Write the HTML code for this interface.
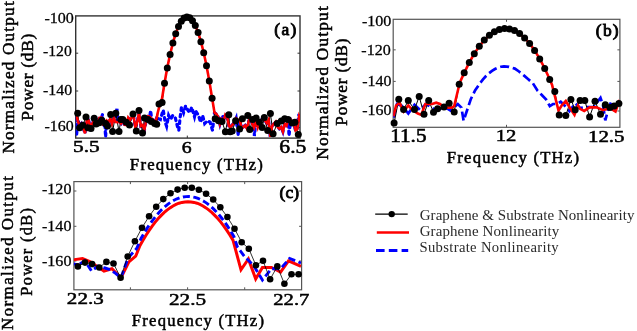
<!DOCTYPE html>
<html><head><meta charset="utf-8"><style>
html,body{margin:0;padding:0;background:#fff;}
svg{display:block;font-family:"Liberation Serif", serif;filter:blur(0.3px);}
</style></head><body>
<svg width="637" height="331" viewBox="0 0 637 331">
<rect width="637" height="331" fill="#fff"/>
<clipPath id="ca"><rect x="75.7" y="10.9" width="224.3" height="127.19999999999999"/></clipPath>
<line x1="187.3" y1="138.1" x2="187.3" y2="135.6" stroke="#333" stroke-width="1"/>
<line x1="75.7" y1="53.2" x2="78.2" y2="53.2" stroke="#333" stroke-width="1"/>
<line x1="300.0" y1="53.2" x2="297.5" y2="53.2" stroke="#333" stroke-width="1"/>
<line x1="75.7" y1="91" x2="78.2" y2="91" stroke="#333" stroke-width="1"/>
<line x1="300.0" y1="91" x2="297.5" y2="91" stroke="#333" stroke-width="1"/>
<line x1="75.7" y1="127.5" x2="78.2" y2="127.5" stroke="#333" stroke-width="1"/>
<line x1="300.0" y1="127.5" x2="297.5" y2="127.5" stroke="#333" stroke-width="1"/>
<rect x="75.7" y="15.9" width="224.3" height="122.19999999999999" fill="none" stroke="#333" stroke-width="1.4"/>
<g clip-path="url(#ca)">
<polyline points="75.8,127.2 76.0,112.7 76.5,136.0 77.8,121.0 78.5,122.0 79.6,125.8 81.4,123.7 83.2,127.8 85.0,133.4 86.8,120.7 88.6,120.4 90.4,127.5 92.2,123.8 94.0,120.4 95.8,120.8 97.6,121.5 99.4,117.9 101.2,117.5 101.5,118.0 102.5,114.5 103.0,124.1 104.5,126.0 104.8,123.0 105.6,137.0 106.6,120.5 107.0,124.0 108.4,122.1 110.2,118.9 112.0,123.9 113.8,118.1 115.6,122.0 116.0,114.0 117.0,108.8 117.4,122.2 118.0,117.0 119.2,121.7 121.0,123.5 122.8,120.1 124.6,124.9 126.4,125.1 128.2,117.7 130.0,119.9 131.8,117.3 133.6,116.4 135.4,127.7 137.2,122.2 139.0,112.8 140.8,126.1 142.6,124.9 144.4,129.7 146.2,120.8 148.0,116.3 149.5,116.0 149.8,116.6 150.6,110.6 151.5,118.0 151.6,118.7 153.4,120.5 155.2,122.2 157.0,116.6 157.0,118.0 160.4,119.5 163.2,110.0 165.2,122.2 166.6,126.3 168.6,115.4 170.6,119.5 172.7,115.4 175.4,118.1 177.4,126.3 178.8,130.4 180.2,116.8 181.5,107.2 183.6,112.7 185.6,105.9 187.7,110.0 189.7,112.7 191.7,107.2 194.5,116.8 195.8,111.3 198.5,115.4 200.6,122.2 202.6,115.4 204.7,123.6 207.4,120.8 210.1,122.2 212.1,129.0 212.5,130.3 214.5,112.6 216.3,114.0 218.1,116.8 219.9,124.1 221.7,118.0 221.7,119.0 222.7,115.4 223.5,120.8 223.7,120.0 225.3,114.8 227.1,116.6 228.9,126.0 230.7,126.9 232.5,124.6 234.3,122.5 236.1,118.4 237.0,126.0 237.9,120.0 238.0,136.0 239.0,126.0 239.7,119.6 241.5,128.6 243.3,127.0 245.1,125.5 246.9,128.5 248.7,121.1 250.5,118.3 252.3,124.0 253.4,126.0 254.1,127.6 254.4,136.0 255.4,126.0 255.9,120.7 257.7,127.2 259.5,121.1 261.3,119.7 263.1,118.5 264.9,120.4 266.7,123.1 268.5,119.8 270.3,136.8 272.1,126.0 273.9,123.6 275.7,121.7 277.5,126.7 279.3,128.7 281.1,127.0 282.9,131.6 284.7,123.9 286.5,125.7 288.0,126.0 288.3,118.8 289.0,136.0 290.0,126.0 290.1,118.4 291.9,122.2 293.7,122.9 295.5,130.4 297.3,129.2 298.0,120.0 299.0,114.0 299.1,116.6 300.0,120.0 300.9,121.3" fill="none" stroke="#0000ff" stroke-width="3.2" stroke-linecap="round" stroke-dasharray="2.6 4"/>
<polyline points="77.7,113.2 79.6,127.8 82.8,125.3 86.0,117.0 87.9,127.8 91.0,128.5 94.2,118.3 96.1,124.0 99.3,122.7 101.8,120.2 105.6,123.4 107.5,125.9 110.7,114.5 112.6,131.6 115.8,113.2 119.0,131.6 120.9,119.6 122.8,119.5 126.2,122.2 129.5,124.9 133.0,114.0 136.3,131.0 139.0,110.6 142.5,133.0 144.5,118.1 148.0,119.5 151.3,121.5 154.7,123.5 156.7,124.2 159.0,103.9 162.1,102.4 164.5,83.3 167.3,67.9 170.1,54.5 172.9,43.1 175.7,33.8 178.5,26.5 181.3,21.3 184.1,18.1 186.9,16.9 189.7,17.8 192.5,20.7 195.3,25.6 198.1,32.6 200.9,41.7 203.7,52.7 206.5,65.8 209.3,81.0 212.1,98.2 215.2,118.8 218.6,120.8 222.0,121.5 225.4,131.7 228.8,114.7 230.1,131.7 232.2,131.0 235.6,120.8 239.6,129.0 242.4,118.8 247.8,115.4 249.8,129.6 252.6,119.5 256.1,118.1 259.5,122.2 262.2,127.6 264.3,117.4 267.7,130.4 270.4,113.4 273.1,133.8 277.2,123.6 281.3,120.9 284.7,118.8 288.1,119.5 292.2,122.9 294.9,122.2 298.3,134.5" fill="none" stroke="#000" stroke-width="1"/>
<polyline points="76.0,112.7 77.8,121.0 79.6,125.8 81.4,123.7 83.2,127.8 85.0,133.4 86.8,120.7 88.6,120.4 90.4,127.5 92.2,123.8 94.0,120.4 95.8,120.8 97.6,121.5 99.4,117.9 101.2,117.5 103.0,124.1 104.8,123.0 106.6,120.5 108.4,122.1 110.2,118.9 112.0,123.9 113.8,118.1 115.6,122.0 117.4,122.2 119.2,121.7 121.0,123.5 122.8,120.1 124.6,124.9 126.4,125.1 128.2,117.7 130.0,119.9 131.8,117.3 133.6,116.4 135.4,127.7 137.2,122.2 139.0,112.8 140.8,126.1 142.6,124.9 144.4,129.7 146.2,120.8 148.0,116.3 149.8,116.6 151.6,118.7 153.4,120.5 155.2,122.2 157.0,116.6 157.4,114.0 160.0,104.0 162.0,98.8 164.0,86.3 166.0,74.8 168.0,64.3 170.0,54.9 172.0,46.5 174.0,39.2 176.0,32.9 178.0,27.7 180.0,23.5 182.0,20.3 184.0,18.1 186.0,17.1 188.0,17.0 190.0,18.0 192.0,20.0 194.0,23.1 196.0,27.2 198.0,32.3 200.0,38.5 202.0,45.8 204.0,54.0 206.0,63.3 208.0,73.7 210.0,85.1 212.0,97.5 214.5,112.6 216.3,114.0 218.1,116.8 219.9,124.1 221.7,119.0 223.5,120.8 225.3,114.8 227.1,116.6 228.9,126.0 230.7,126.9 232.5,124.6 234.3,122.5 236.1,118.4 237.9,120.0 239.7,119.6 241.5,128.6 243.3,127.0 245.1,125.5 246.9,128.5 248.7,121.1 250.5,118.3 252.3,124.0 254.1,127.6 255.9,120.7 257.7,127.2 259.5,121.1 261.3,119.7 263.1,118.5 264.9,120.4 266.7,123.1 268.5,119.8 270.3,136.8 272.1,126.0 273.9,123.6 275.7,121.7 277.5,126.7 279.3,128.7 281.1,127.0 282.9,131.6 284.7,123.9 286.5,125.7 288.3,118.8 290.1,118.4 291.9,122.2 293.7,122.9 295.5,130.4 297.3,129.2 299.1,116.6 300.9,121.3" fill="none" stroke="#ff0000" stroke-width="2.6"/>
</g>
<g fill="#000"><circle cx="77.7" cy="113.2" r="3.5"/><circle cx="79.6" cy="127.8" r="3.5"/><circle cx="82.8" cy="125.3" r="3.5"/><circle cx="86.0" cy="117.0" r="3.5"/><circle cx="87.9" cy="127.8" r="3.5"/><circle cx="91.0" cy="128.5" r="3.5"/><circle cx="94.2" cy="118.3" r="3.5"/><circle cx="96.1" cy="124.0" r="3.5"/><circle cx="99.3" cy="122.7" r="3.5"/><circle cx="101.8" cy="120.2" r="3.5"/><circle cx="105.6" cy="123.4" r="3.5"/><circle cx="107.5" cy="125.9" r="3.5"/><circle cx="110.7" cy="114.5" r="3.5"/><circle cx="112.6" cy="131.6" r="3.5"/><circle cx="115.8" cy="113.2" r="3.5"/><circle cx="119.0" cy="131.6" r="3.5"/><circle cx="120.9" cy="119.6" r="3.5"/><circle cx="122.8" cy="119.5" r="3.5"/><circle cx="126.2" cy="122.2" r="3.5"/><circle cx="129.5" cy="124.9" r="3.5"/><circle cx="133.0" cy="114.0" r="3.5"/><circle cx="136.3" cy="131.0" r="3.5"/><circle cx="139.0" cy="110.6" r="3.5"/><circle cx="142.5" cy="133.0" r="3.5"/><circle cx="144.5" cy="118.1" r="3.5"/><circle cx="148.0" cy="119.5" r="3.5"/><circle cx="151.3" cy="121.5" r="3.5"/><circle cx="154.7" cy="123.5" r="3.5"/><circle cx="156.7" cy="124.2" r="3.5"/><circle cx="159.0" cy="103.9" r="3.5"/><circle cx="162.1" cy="102.4" r="3.5"/><circle cx="164.5" cy="83.3" r="3.5"/><circle cx="167.3" cy="67.9" r="3.5"/><circle cx="170.1" cy="54.5" r="3.5"/><circle cx="172.9" cy="43.1" r="3.5"/><circle cx="175.7" cy="33.8" r="3.5"/><circle cx="178.5" cy="26.5" r="3.5"/><circle cx="181.3" cy="21.3" r="3.5"/><circle cx="184.1" cy="18.1" r="3.5"/><circle cx="186.9" cy="16.9" r="3.5"/><circle cx="189.7" cy="17.8" r="3.5"/><circle cx="192.5" cy="20.7" r="3.5"/><circle cx="195.3" cy="25.6" r="3.5"/><circle cx="198.1" cy="32.6" r="3.5"/><circle cx="200.9" cy="41.7" r="3.5"/><circle cx="203.7" cy="52.7" r="3.5"/><circle cx="206.5" cy="65.8" r="3.5"/><circle cx="209.3" cy="81.0" r="3.5"/><circle cx="212.1" cy="98.2" r="3.5"/><circle cx="215.2" cy="118.8" r="3.5"/><circle cx="218.6" cy="120.8" r="3.5"/><circle cx="222.0" cy="121.5" r="3.5"/><circle cx="225.4" cy="131.7" r="3.5"/><circle cx="228.8" cy="114.7" r="3.5"/><circle cx="230.1" cy="131.7" r="3.5"/><circle cx="232.2" cy="131.0" r="3.5"/><circle cx="235.6" cy="120.8" r="3.5"/><circle cx="239.6" cy="129.0" r="3.5"/><circle cx="242.4" cy="118.8" r="3.5"/><circle cx="247.8" cy="115.4" r="3.5"/><circle cx="249.8" cy="129.6" r="3.5"/><circle cx="252.6" cy="119.5" r="3.5"/><circle cx="256.1" cy="118.1" r="3.5"/><circle cx="259.5" cy="122.2" r="3.5"/><circle cx="262.2" cy="127.6" r="3.5"/><circle cx="264.3" cy="117.4" r="3.5"/><circle cx="267.7" cy="130.4" r="3.5"/><circle cx="270.4" cy="113.4" r="3.5"/><circle cx="273.1" cy="133.8" r="3.5"/><circle cx="277.2" cy="123.6" r="3.5"/><circle cx="281.3" cy="120.9" r="3.5"/><circle cx="284.7" cy="118.8" r="3.5"/><circle cx="288.1" cy="119.5" r="3.5"/><circle cx="292.2" cy="122.9" r="3.5"/><circle cx="294.9" cy="122.2" r="3.5"/><circle cx="298.3" cy="134.5" r="3.5"/></g>
<clipPath id="cb"><rect x="393.2" y="14.3" width="226.7" height="113.0"/></clipPath>
<line x1="506.5" y1="127.3" x2="506.5" y2="124.8" stroke="#555" stroke-width="1"/>
<line x1="506.5" y1="19.3" x2="506.5" y2="21.8" stroke="#555" stroke-width="1"/>
<line x1="393.2" y1="49.85" x2="395.7" y2="49.85" stroke="#555" stroke-width="1"/>
<line x1="619.9" y1="49.85" x2="617.4" y2="49.85" stroke="#555" stroke-width="1"/>
<line x1="393.2" y1="81.4" x2="395.7" y2="81.4" stroke="#555" stroke-width="1"/>
<line x1="619.9" y1="81.4" x2="617.4" y2="81.4" stroke="#555" stroke-width="1"/>
<line x1="393.2" y1="111" x2="395.7" y2="111" stroke="#555" stroke-width="1"/>
<line x1="619.9" y1="111" x2="617.4" y2="111" stroke="#555" stroke-width="1"/>
<rect x="393.2" y="19.3" width="226.7" height="108.0" fill="none" stroke="#555" stroke-width="1.2"/>
<g clip-path="url(#cb)">
<polyline points="393.4,117.6 397.0,104.0 402.0,106.0 408.3,113.5 414.5,104.7 420.0,110.0 426.0,104.0 433.5,108.8 440.0,109.0 445.0,107.0 450.5,110.5 457.8,104.0 461.4,107.6 463.6,120.7 466.5,112.0 470.9,98.9 475.2,90.2 480.0,83.2 483.0,79.4 486.0,76.0 489.0,73.2 492.0,70.9 495.0,69.0 498.0,67.6 501.0,66.7 504.0,66.3 509.0,66.8 514.8,68.6 519.0,71.5 523.8,75.4 528.0,79.0 532.9,83.3 537.4,90.5 541.8,95.0 546.2,99.6 549.8,106.1 553.0,104.0 557.0,104.0 560.7,101.8 565.0,106.0 569.4,111.2 575.2,103.2 580.0,108.0 586.0,107.0 593.7,106.8 600.5,97.9 603.0,105.0 605.3,120.4 608.0,110.0 611.4,101.3 615.0,108.0 620.0,102.0" fill="none" stroke="#0000ff" stroke-width="2.7" stroke-dasharray="9 3.8"/>
<polyline points="394.1,123.0 398.8,99.3 403.6,109.5 408.3,100.6 414.5,109.5 419.2,96.5 424.0,114.2 428.7,100.6 433.5,112.2 437.6,108.8 444.0,106.9 449.1,103.2 454.2,112.0 459.2,84.2 464.2,72.8 469.3,62.6 474.3,53.8 479.3,46.3 484.3,40.1 489.4,35.3 494.4,31.7 499.4,29.5 504.5,28.5 509.5,28.9 514.5,30.6 519.6,33.6 524.6,38.0 529.6,43.6 534.6,50.6 539.7,58.9 544.7,68.5 549.7,79.4 554.8,91.6 559.2,114.9 565.8,115.6 570.9,99.6 575.2,109.8 580.1,100.6 584.8,100.6 589.6,117.0 595.0,101.3 600.5,114.3 605.3,104.7 610.0,107.4 614.1,106.1 618.9,103.4" fill="none" stroke="#000" stroke-width="1"/>
<polyline points="393.4,116.3 396.1,105.4 399.5,102.7 403.6,111.5 408.3,105.4 412.4,110.1 417.9,113.5 421.3,114.9 425.3,104.0 432.1,104.0 436.2,102.7 440.0,104.0 444.7,107.6 452.0,107.6 454.2,106.0 458.0,90.0 460.0,82.3 464.0,73.3 468.0,65.1 472.0,57.7 476.0,51.1 480.0,45.4 484.0,40.5 488.0,36.5 492.0,33.2 496.0,30.8 500.0,29.3 504.0,28.6 508.0,28.7 512.0,29.6 516.0,31.4 520.0,34.0 524.0,37.4 528.0,41.7 532.0,46.8 536.0,52.7 540.0,59.4 544.0,67.0 548.0,75.5 552.0,84.7 558.5,110.5 562.0,105.0 565.8,101.0 570.0,108.0 574.5,114.9 578.0,105.4 580.0,108.8 584.2,110.9 589.6,107.4 596.4,107.4 603.2,110.2 610.0,108.1 615.5,111.5 619.5,100.0" fill="none" stroke="#ff0000" stroke-width="2.6"/>
</g>
<g fill="#000"><circle cx="394.1" cy="123.0" r="3.5"/><circle cx="398.8" cy="99.3" r="3.5"/><circle cx="403.6" cy="109.5" r="3.5"/><circle cx="408.3" cy="100.6" r="3.5"/><circle cx="414.5" cy="109.5" r="3.5"/><circle cx="419.2" cy="96.5" r="3.5"/><circle cx="424.0" cy="114.2" r="3.5"/><circle cx="428.7" cy="100.6" r="3.5"/><circle cx="433.5" cy="112.2" r="3.5"/><circle cx="437.6" cy="108.8" r="3.5"/><circle cx="444.0" cy="106.9" r="3.5"/><circle cx="449.1" cy="103.2" r="3.5"/><circle cx="454.2" cy="112.0" r="3.5"/><circle cx="459.2" cy="84.2" r="3.5"/><circle cx="464.2" cy="72.8" r="3.5"/><circle cx="469.3" cy="62.6" r="3.5"/><circle cx="474.3" cy="53.8" r="3.5"/><circle cx="479.3" cy="46.3" r="3.5"/><circle cx="484.3" cy="40.1" r="3.5"/><circle cx="489.4" cy="35.3" r="3.5"/><circle cx="494.4" cy="31.7" r="3.5"/><circle cx="499.4" cy="29.5" r="3.5"/><circle cx="504.5" cy="28.5" r="3.5"/><circle cx="509.5" cy="28.9" r="3.5"/><circle cx="514.5" cy="30.6" r="3.5"/><circle cx="519.6" cy="33.6" r="3.5"/><circle cx="524.6" cy="38.0" r="3.5"/><circle cx="529.6" cy="43.6" r="3.5"/><circle cx="534.6" cy="50.6" r="3.5"/><circle cx="539.7" cy="58.9" r="3.5"/><circle cx="544.7" cy="68.5" r="3.5"/><circle cx="549.7" cy="79.4" r="3.5"/><circle cx="554.8" cy="91.6" r="3.5"/><circle cx="559.2" cy="114.9" r="3.5"/><circle cx="565.8" cy="115.6" r="3.5"/><circle cx="570.9" cy="99.6" r="3.5"/><circle cx="575.2" cy="109.8" r="3.5"/><circle cx="580.1" cy="100.6" r="3.5"/><circle cx="584.8" cy="100.6" r="3.5"/><circle cx="589.6" cy="117.0" r="3.5"/><circle cx="595.0" cy="101.3" r="3.5"/><circle cx="600.5" cy="114.3" r="3.5"/><circle cx="605.3" cy="104.7" r="3.5"/><circle cx="610.0" cy="107.4" r="3.5"/><circle cx="614.1" cy="106.1" r="3.5"/><circle cx="618.9" cy="103.4" r="3.5"/></g>
<clipPath id="cc"><rect x="73.9" y="176.6" width="227.70000000000002" height="113.20000000000002"/></clipPath>
<line x1="130.4" y1="289.8" x2="130.4" y2="287.3" stroke="#555" stroke-width="1"/>
<line x1="130.4" y1="181.6" x2="130.4" y2="184.1" stroke="#555" stroke-width="1"/>
<line x1="187.6" y1="289.8" x2="187.6" y2="287.3" stroke="#555" stroke-width="1"/>
<line x1="187.6" y1="181.6" x2="187.6" y2="184.1" stroke="#555" stroke-width="1"/>
<line x1="244.7" y1="289.8" x2="244.7" y2="287.3" stroke="#555" stroke-width="1"/>
<line x1="244.7" y1="181.6" x2="244.7" y2="184.1" stroke="#555" stroke-width="1"/>
<line x1="73.9" y1="191" x2="76.4" y2="191" stroke="#555" stroke-width="1"/>
<line x1="301.6" y1="191" x2="299.1" y2="191" stroke="#555" stroke-width="1"/>
<line x1="73.9" y1="226.3" x2="76.4" y2="226.3" stroke="#555" stroke-width="1"/>
<line x1="301.6" y1="226.3" x2="299.1" y2="226.3" stroke="#555" stroke-width="1"/>
<line x1="73.9" y1="261" x2="76.4" y2="261" stroke="#555" stroke-width="1"/>
<line x1="301.6" y1="261" x2="299.1" y2="261" stroke="#555" stroke-width="1"/>
<rect x="73.9" y="181.6" width="227.70000000000002" height="108.20000000000002" fill="none" stroke="#555" stroke-width="1.2"/>
<g clip-path="url(#cc)">
<polyline points="70.0,260.8 74.5,259.6 82.5,258.5 90.4,261.9 97.2,266.4 104.0,271.0 111.9,268.7 117.5,274.3 121.0,277.7 128.9,261.9 135.7,256.2 140.0,245.5 143.0,240.2 146.0,235.2 149.0,230.6 152.0,226.3 155.0,222.4 158.0,218.8 161.0,215.6 164.0,212.6 167.0,210.1 170.0,207.9 173.0,206.0 176.0,204.4 179.0,203.2 182.0,202.4 185.0,201.9 188.0,201.7 191.0,201.9 194.0,202.4 197.0,203.2 200.0,204.4 203.0,206.0 206.0,207.9 209.0,210.1 212.0,212.6 215.0,215.6 218.0,218.8 221.0,222.4 224.0,226.3 227.0,230.6 230.0,235.2 233.0,240.2 241.0,269.8 248.4,259.0 255.7,278.9 262.4,267.5 271.5,267.5 280.6,272.1 288.5,260.8 301.0,266.4" fill="none" stroke="#ff0000" stroke-width="3"/>
<polyline points="70.0,263.0 78.0,265.0 85.0,261.0 91.5,271.0 98.0,266.0 105.0,268.0 111.0,270.0 115.3,273.2 121.0,277.7 128.0,258.0 136.8,248.3 141.0,238.5 144.0,233.3 147.0,228.4 150.0,223.9 153.0,219.8 156.0,216.0 159.0,212.5 162.0,209.3 165.0,206.6 168.0,204.1 171.0,202.0 174.0,200.2 177.0,198.8 180.0,197.7 183.0,197.0 186.0,196.6 189.0,196.5 192.0,196.8 195.0,197.4 198.0,198.4 201.0,199.7 204.0,201.4 207.0,203.4 210.0,205.7 213.0,208.4 216.0,211.4 219.0,214.8 222.0,218.5 225.0,222.5 228.0,226.9 231.0,231.6 234.0,236.7 237.5,247.2 244.3,256.2 253.4,265.3 262.4,280.0 271.5,268.7 280.6,268.7 289.6,258.5 301.0,263.0" fill="none" stroke="#0000ff" stroke-width="2.9" stroke-dasharray="7 3.5"/>
<polyline points="77.9,266.4 85.0,262.6 92.1,264.1 99.3,267.5 106.4,261.9 113.5,263.5 120.6,277.7 127.7,256.5 134.9,241.2 142.0,227.7 149.1,216.3 156.2,206.7 163.3,199.1 170.5,193.3 177.6,189.6 184.7,187.7 191.8,187.8 198.9,189.8 206.1,193.7 213.2,199.5 220.3,207.3 227.4,217.0 234.5,228.7 241.7,242.2 248.8,248.7 255.9,265.3 263.0,260.8 270.1,279.3 277.3,266.4 284.4,283.8 291.5,274.3 298.6,274.3" fill="none" stroke="#000" stroke-width="0.8"/>
</g>
<g fill="#000"><circle cx="77.9" cy="266.4" r="3.3"/><circle cx="85.0" cy="262.6" r="3.3"/><circle cx="92.1" cy="264.1" r="3.3"/><circle cx="99.3" cy="267.5" r="3.3"/><circle cx="106.4" cy="261.9" r="3.3"/><circle cx="113.5" cy="263.5" r="3.3"/><circle cx="120.6" cy="277.7" r="3.3"/><circle cx="127.7" cy="256.5" r="3.3"/><circle cx="134.9" cy="241.2" r="3.3"/><circle cx="142.0" cy="227.7" r="3.3"/><circle cx="149.1" cy="216.3" r="3.3"/><circle cx="156.2" cy="206.7" r="3.3"/><circle cx="163.3" cy="199.1" r="3.3"/><circle cx="170.5" cy="193.3" r="3.3"/><circle cx="177.6" cy="189.6" r="3.3"/><circle cx="184.7" cy="187.7" r="3.3"/><circle cx="191.8" cy="187.8" r="3.3"/><circle cx="198.9" cy="189.8" r="3.3"/><circle cx="206.1" cy="193.7" r="3.3"/><circle cx="213.2" cy="199.5" r="3.3"/><circle cx="220.3" cy="207.3" r="3.3"/><circle cx="227.4" cy="217.0" r="3.3"/><circle cx="234.5" cy="228.7" r="3.3"/><circle cx="241.7" cy="242.2" r="3.3"/><circle cx="248.8" cy="248.7" r="3.3"/><circle cx="255.9" cy="265.3" r="3.3"/><circle cx="263.0" cy="260.8" r="3.3"/><circle cx="270.1" cy="279.3" r="3.3"/><circle cx="277.3" cy="266.4" r="3.3"/><circle cx="284.4" cy="283.8" r="3.3"/><circle cx="291.5" cy="274.3" r="3.3"/><circle cx="298.6" cy="274.3" r="3.3"/></g>
<line x1="375.2" y1="214.1" x2="407.7" y2="214.1" stroke="#000" stroke-width="1.3"/>
<circle cx="391.7" cy="214.1" r="3.2" fill="#000"/>
<line x1="376.8" y1="232.5" x2="409" y2="232.5" stroke="#ff0000" stroke-width="2.6"/>
<line x1="376" y1="250.5" x2="408.2" y2="250.5" stroke="#0000ff" stroke-width="2.8" stroke-dasharray="8.6 4.2"/>
<text x="0" y="0" font-size="14.44" font-weight="normal" stroke="#000" stroke-width="0.26" transform="translate(44.42,23.26) scale(1.1116,1)">-100</text>
<text x="0" y="0" font-size="15.26" font-weight="normal" stroke="#000" stroke-width="0.27" transform="translate(43.03,56.45) scale(1.0301,1)">-120</text>
<text x="0" y="0" font-size="14.96" font-weight="normal" stroke="#000" stroke-width="0.27" transform="translate(43.02,95.25) scale(1.0618,1)">-140</text>
<text x="0" y="0" font-size="14.81" font-weight="normal" stroke="#000" stroke-width="0.27" transform="translate(44.52,131.25) scale(1.0762,1)">-160</text>
<text x="0" y="0" font-size="17.19" font-weight="normal" stroke="#000" stroke-width="0.52" transform="translate(73.04,152.43) scale(1.2378,1)">5.5</text>
<text x="0" y="0" font-size="17.63" font-weight="normal" stroke="#000" stroke-width="0.53" transform="translate(181.71,152.72) scale(1.1220,1)">6</text>
<text x="0" y="0" font-size="17.78" font-weight="normal" stroke="#000" stroke-width="0.53" transform="translate(279.35,152.82) scale(1.2144,1)">6.5</text>
<text x="0" y="0" font-size="16.79" font-weight="normal" stroke="#000" stroke-width="0.50" letter-spacing="1.209" transform="translate(129.85,169.70) scale(1.0000,1)">Frequency (THz)</text>
<text x="0" y="0" font-size="17.49" font-weight="normal" stroke="#000" stroke-width="0.87" letter-spacing="1.340" transform="translate(274.35,35.00) scale(1.0000,1)">(a)</text>
<text x="0" y="0" font-size="17.10" font-weight="normal" stroke="#000" stroke-width="0.51" letter-spacing="1.228" transform="translate(14.20,153.46) rotate(-90) scale(1.0000,1)">Normalized Output</text>
<text x="0" y="0" font-size="17.40" font-weight="normal" stroke="#000" stroke-width="0.52" letter-spacing="0.703" transform="translate(33.00,120.66) rotate(-90) scale(1.0000,1)">Power (dB)</text>
<text x="0" y="0" font-size="14.37" font-weight="normal" stroke="#000" stroke-width="0.26" transform="translate(361.92,25.66) scale(1.1212,1)">-100</text>
<text x="0" y="0" font-size="14.96" font-weight="normal" stroke="#000" stroke-width="0.27" transform="translate(361.32,54.75) scale(1.0731,1)">-120</text>
<text x="0" y="0" font-size="14.37" font-weight="normal" stroke="#000" stroke-width="0.26" transform="translate(362.22,85.66) scale(1.1095,1)">-140</text>
<text x="0" y="0" font-size="14.96" font-weight="normal" stroke="#000" stroke-width="0.27" transform="translate(362.22,115.05) scale(1.0655,1)">-160</text>
<text x="0" y="0" font-size="17.93" font-weight="normal" stroke="#000" stroke-width="0.54" transform="translate(390.21,142.12) scale(1.1813,1)">11.5</text>
<text x="0" y="0" font-size="17.63" font-weight="normal" stroke="#000" stroke-width="0.53" transform="translate(495.75,141.42) scale(1.1729,1)">12</text>
<text x="0" y="0" font-size="17.33" font-weight="normal" stroke="#000" stroke-width="0.52" transform="translate(587.93,142.13) scale(1.2063,1)">12.5</text>
<text x="0" y="0" font-size="16.64" font-weight="normal" stroke="#000" stroke-width="0.50" letter-spacing="1.227" transform="translate(446.85,163.00) scale(1.0000,1)">Frequency (THz)</text>
<text x="0" y="0" font-size="17.49" font-weight="normal" stroke="#000" stroke-width="0.87" letter-spacing="1.209" transform="translate(595.85,35.80) scale(1.0000,1)">(b)</text>
<text x="0" y="0" font-size="17.56" font-weight="normal" stroke="#000" stroke-width="0.53" letter-spacing="1.094" transform="translate(328.10,159.66) rotate(-90) scale(1.0000,1)">Normalized Output</text>
<text x="0" y="0" font-size="17.10" font-weight="normal" stroke="#000" stroke-width="0.51" letter-spacing="0.870" transform="translate(346.80,125.66) rotate(-90) scale(1.0000,1)">Power (dB)</text>
<text x="0" y="0" font-size="14.81" font-weight="normal" stroke="#000" stroke-width="0.27" transform="translate(41.92,194.25) scale(1.0876,1)">-120</text>
<text x="0" y="0" font-size="14.81" font-weight="normal" stroke="#000" stroke-width="0.27" transform="translate(41.92,230.85) scale(1.0876,1)">-140</text>
<text x="0" y="0" font-size="14.81" font-weight="normal" stroke="#000" stroke-width="0.27" transform="translate(41.92,265.85) scale(1.0876,1)">-160</text>
<text x="0" y="0" font-size="16.30" font-weight="normal" stroke="#000" stroke-width="0.49" transform="translate(66.87,304.04) scale(1.2924,1)">22.3</text>
<text x="0" y="0" font-size="16.74" font-weight="normal" stroke="#000" stroke-width="0.50" transform="translate(168.96,305.03) scale(1.2687,1)">22.5</text>
<text x="0" y="0" font-size="16.44" font-weight="normal" stroke="#000" stroke-width="0.49" transform="translate(273.28,304.84) scale(1.2554,1)">22.7</text>
<text x="0" y="0" font-size="16.64" font-weight="normal" stroke="#000" stroke-width="0.50" letter-spacing="1.227" transform="translate(131.85,326.40) scale(1.0000,1)">Frequency (THz)</text>
<text x="0" y="0" font-size="17.49" font-weight="normal" stroke="#000" stroke-width="0.87" letter-spacing="0.040" transform="translate(279.55,197.80) scale(1.0000,1)">(c)</text>
<text x="0" y="0" font-size="16.79" font-weight="normal" stroke="#000" stroke-width="0.50" letter-spacing="1.488" transform="translate(13.00,329.95) rotate(-90) scale(1.0000,1)">Normalized Output</text>
<text x="0" y="0" font-size="16.34" font-weight="normal" stroke="#000" stroke-width="0.49" letter-spacing="1.304" transform="translate(31.50,295.65) rotate(-90) scale(1.0000,1)">Power (dB)</text>
<text x="0" y="0" font-size="14.96" font-weight="normal" fill="#2a2a2a" letter-spacing="0.077" transform="translate(419.70,219.60) scale(1.0000,1)">Graphene &amp; Substrate Nonlinearity</text>
<text x="0" y="0" font-size="14.96" font-weight="normal" fill="#2a2a2a" letter-spacing="0.110" transform="translate(419.70,235.60) scale(1.0000,1)">Graphene Nonlinearity</text>
<text x="0" y="0" font-size="14.66" font-weight="normal" fill="#2a2a2a" letter-spacing="0.328" transform="translate(419.45,252.30) scale(1.0000,1)">Substrate Nonlinearity</text>
</svg>
</body></html>
